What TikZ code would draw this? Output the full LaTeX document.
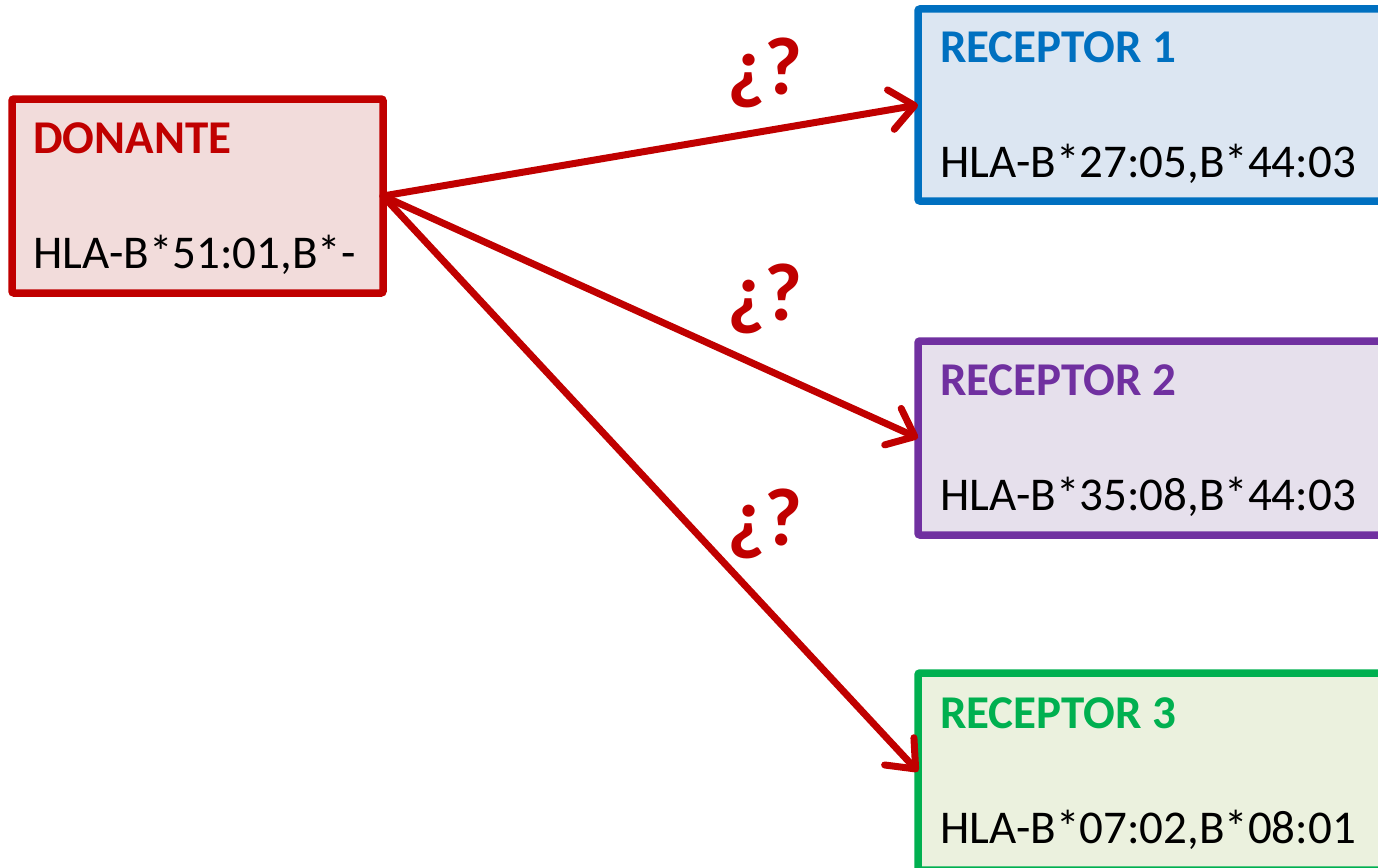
\documentclass[tikz,border=0pt]{standalone}
\usepackage{fontspec}
\setmainfont{Carlito}
\usetikzlibrary{arrows.meta}
\definecolor{dred}{HTML}{C00000}
\definecolor{dredf}{HTML}{F2DCDB}
\definecolor{dblue}{HTML}{0070C0}
\definecolor{dbluef}{HTML}{DCE6F2}
\definecolor{dpurp}{HTML}{7030A0}
\definecolor{dpurpf}{HTML}{E6E0EC}
\definecolor{dgreen}{HTML}{00B050}
\definecolor{dgreenf}{HTML}{EBF1DE}
\begin{document}
\begin{tikzpicture}[x=1pt,y=-1pt,
  box/.style={draw, line width=7.5pt, rounded corners=2pt, inner sep=0pt, outer sep=0pt, anchor=north west},
  ttl/.style={anchor=base west, inner sep=0pt, font=\fontsize{47}{56}\selectfont\bfseries},
  hla/.style={anchor=base west, inner sep=0pt, text=black, font=\fontsize{47}{56}\selectfont},
  arr/.style={draw=dred, line width=7pt, line cap=round, line join=round, -{Straight Barb[length=24pt,width=40pt,round]}},
  qm/.style={text=dred, inner sep=0pt, font=\fontsize{82}{94}\selectfont\bfseries}]
\useasboundingbox (0,0) rectangle (1378,867);
\clip (0,0) rectangle (1378,867);
\node[box, draw=dred, fill=dredf, minimum width=371pt, minimum height=194pt] (don) at (12,99) {};
\node[box, draw=dblue, fill=dbluef, minimum width=492pt, minimum height=192pt] (r1) at (918,9) {};
\node[box, draw=dpurp, fill=dpurpf, minimum width=492pt, minimum height=194pt] (r2) at (918,341) {};
\node[box, draw=dgreen, fill=dgreenf, minimum width=492pt, minimum height=197pt] (r3) at (918,673) {};
\node[ttl, text=dred] (dont) at (33,153) {DONANTE};
\node[hla] (donh) at (33,268) {HLA-B*51:01,B*-};
\node[ttl, text=dblue] (r1t) at (940,63) {RECEPTOR 1};
\node[hla] (r1h) at (940,177) {HLA-B*27:05,B*44:03};
\node[ttl, text=dpurp] (r2t) at (940,395) {RECEPTOR 2};
\node[hla] (r2h) at (940,510) {HLA-B*35:08,B*44:03};
\node[ttl, text=dgreen] (r3t) at (940,728) {RECEPTOR 3};
\node[hla] (r3h) at (940,843) {HLA-B*07:02,B*08:01};
\draw[arr] (don.east) -- (r1.west);
\draw[arr] (don.east) -- (r2.west);
\draw[arr] (don.east) -- (r3.west);
\node[qm] (q1) at (765,73) {¿?};
\node[qm] (q2) at (765,299) {¿?};
\node[qm] (q3) at (765,524) {¿?};
\end{tikzpicture}
\end{document}
